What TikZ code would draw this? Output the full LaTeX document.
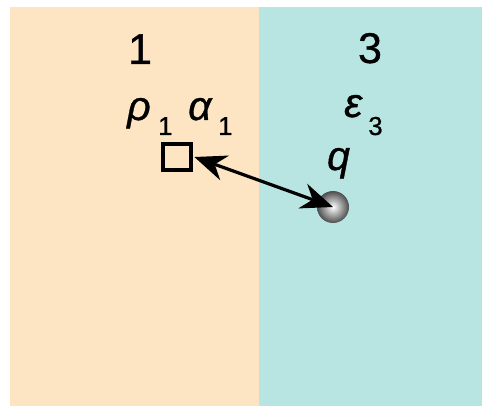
\documentclass[tikz,border=0pt]{standalone}
\usepackage{fontspec}
\setmainfont{Liberation Sans}[FakeBold=0.8]
\usetikzlibrary{arrows.meta}
\definecolor{regionA}{HTML}{FDE5C3}
\definecolor{regionB}{HTML}{B8E5E2}
\begin{document}
\begin{tikzpicture}[x=1pt,y=-1pt,
  bigtxt/.style={inner sep=0pt,anchor=base,font=\fontsize{43}{50}\selectfont},
  greek/.style={inner sep=0pt,anchor=base west,font=\fontsize{41}{48}\selectfont\itshape},
  subtxt/.style={inner sep=0pt,anchor=base west,font=\fontsize{26}{30}\selectfont},
  probe/.style={draw=black,line width=3.2pt,minimum width=28pt,minimum height=26pt,inner sep=0pt},
  charge/.style={circle,minimum size=32pt,inner sep=0pt,inner color=white,outer color=black!70},
  link/.style={{Stealth[length=32pt,width=26pt]}-{Stealth[length=32pt,width=26pt]},line width=3.2pt}]
\useasboundingbox (0,0) rectangle (482,406);
\fill[white] (0,0) rectangle (482,406);
\fill[regionA] (10,7) rectangle (259,406);
\fill[regionB] (259,7) rectangle (482,406);
\node[bigtxt] (n1) at (140,64) {1};
\node[bigtxt] (n3) at (370,63) {3};
\node[greek] (rho) at (127,120) {ρ};
\node[subtxt] (rhos) at (158,135) {1};
\node[greek] (alpha) at (188,120) {α};
\node[subtxt] (alphas) at (218,135) {1};
\node[greek] (eps) at (344,117) {ε};
\node[subtxt] (epss) at (368,135) {3};
\node[greek] (qlab) at (327,170) {q};
\node[probe] (sq) at (177,157) {};
\node[charge] (q) at (333,207) {};
\draw[link] ([xshift=1.8pt]sq.east) -- (q.center);
\end{tikzpicture}
\end{document}
